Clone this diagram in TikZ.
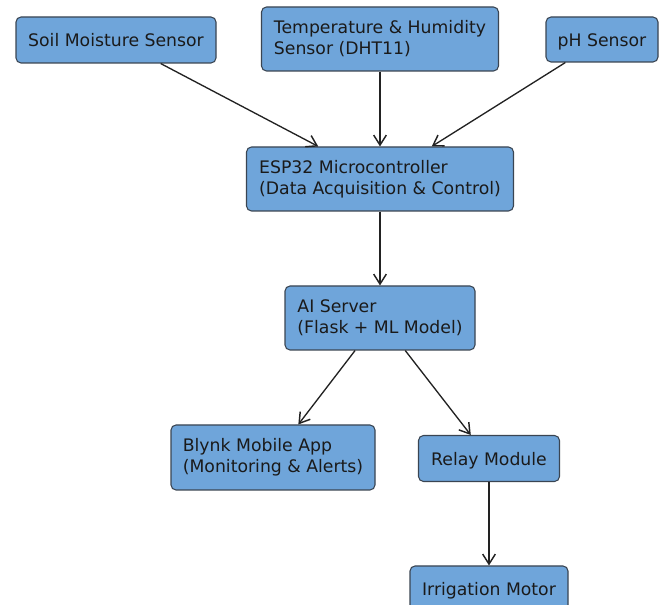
\documentclass[tikz,border=0pt]{standalone}
\usepackage{fontspec}
\setmainfont{DejaVu Sans}
\usetikzlibrary{arrows.meta}
\definecolor{boxfill}{HTML}{6FA5DA}
\definecolor{boxline}{HTML}{3A4552}
\definecolor{txt}{HTML}{1A1A1A}
\definecolor{arrcol}{HTML}{222222}
\tikzset{
  blk/.style={draw=boxline, fill=boxfill, line width=0.8pt, rounded corners=3.75pt,
    align=left, text=txt, font=\fontsize{12.95pt}{15.75pt}\selectfont, inner sep=0pt},
  oneline/.style={text height=10.4pt, text depth=0pt},
  arr/.style={draw=arrcol, line width=1pt, -{Straight Barb[length=7.5pt,width=9.5pt,line width=1.1pt]}}
}
\begin{document}
\begin{tikzpicture}[x=0.75pt,y=-0.75pt]
\useasboundingbox (0,0) rectangle (665,605);
\clip (0,0) rectangle (665,605);
\node[blk, oneline, minimum width=150pt, minimum height=34.5pt] (soil) at (116,40) {Soil Moisture Sensor};
\node[blk, minimum width=177.75pt, minimum height=48pt] (temp) at (380,39) {Temperature \& Humidity\\Sensor (DHT11)};
\node[blk, oneline, minimum width=84pt, minimum height=33.75pt] (ph) at (602,39.5) {pH Sensor};
\node[blk, minimum width=200.25pt, minimum height=48pt] (esp) at (380,179) {ESP32 Microcontroller\\(Data Acquisition \& Control)};
\node[blk, minimum width=142.5pt, minimum height=48pt] (ai) at (380,318) {AI Server\\(Flask + ML Model)};
\node[blk, minimum width=153pt, minimum height=48.75pt] (blynk) at (273,457.5) {Blynk Mobile App\\(Monitoring \& Alerts)};
\node[blk, oneline, minimum width=105.75pt, minimum height=34.5pt] (relay) at (489,458.5) {Relay Module};
\node[blk, oneline, minimum width=118.5pt, minimum height=33.75pt] (motor) at (489,588.5) {Irrigation Motor};
\draw[arr] (soil) -- (esp);
\draw[arr] (temp) -- (esp);
\draw[arr] (ph) -- (esp);
\draw[arr] (esp) -- (ai);
\draw[arr] (ai) -- (blynk);
\draw[arr] (ai) -- (relay);
\draw[arr] (relay) -- (motor);
\end{tikzpicture}
\end{document}
